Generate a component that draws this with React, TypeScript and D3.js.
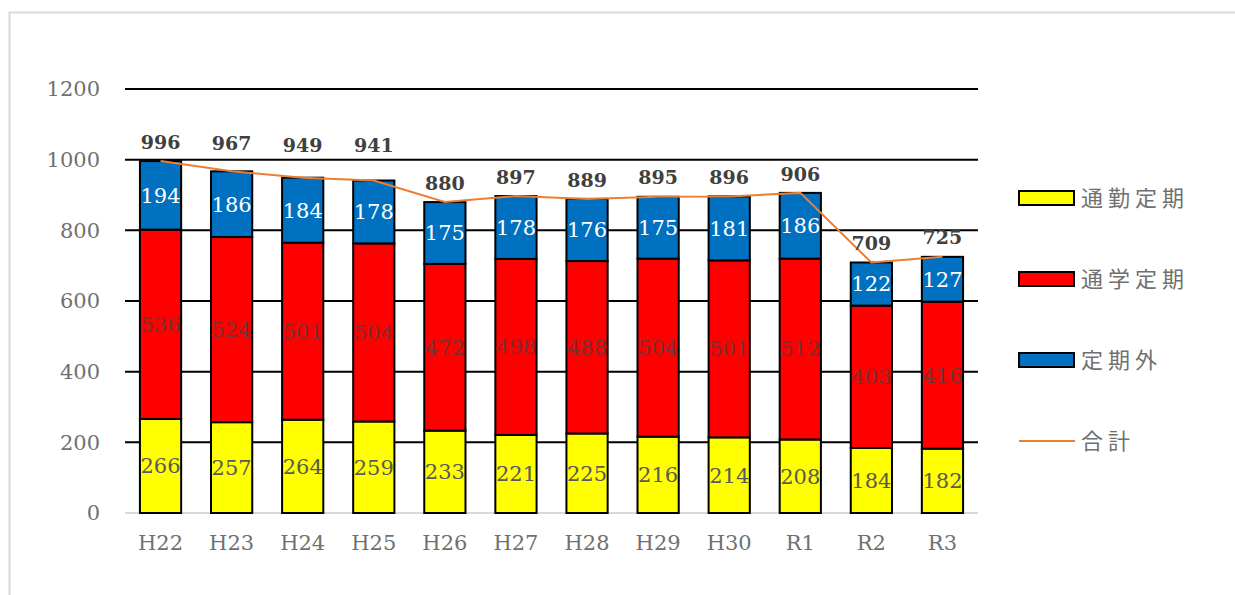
import { useEffect, useRef } from "react";
import * as d3 from "d3";

const years = ["H22", "H23", "H24", "H25", "H26", "H27", "H28", "H29", "H30", "R1", "R2", "R3"];
const commute = [266, 257, 264, 259, 233, 221, 225, 216, 214, 208, 184, 182];
const school = [536, 524, 501, 504, 472, 498, 488, 504, 501, 512, 403, 416];
const other = [194, 186, 184, 178, 175, 178, 176, 175, 181, 186, 122, 127];
const totals = [996, 967, 949, 941, 880, 897, 889, 895, 896, 906, 709, 725];
const yTicks = [0, 200, 400, 600, 800, 1000, 1200];

const seriesNames = ["通勤定期", "通学定期", "定期外"];
const seriesColors = ["#ffff00", "#ff0000", "#0070c0"];
const labelColors = ["#595959", "#7a3030", "#ffffff"];
const lineName = "合計";
const lineColor = "#ed7d31";

const W = 1235;
const H = 595;
const serif = "'DejaVu Serif', 'Liberation Serif', serif";
const sans = "'Noto Sans CJK JP', 'Noto Sans', sans-serif";

const App = () => {
  const ref = useRef<SVGSVGElement>(null);

  useEffect(() => {
    const svg = d3.select(ref.current);
    svg.selectAll("*").remove();

    // frame
    svg
      .append("rect")
      .attr("x", 9.5)
      .attr("y", 12.5)
      .attr("width", 1250)
      .attr("height", 620)
      .attr("fill", "#fff")
      .attr("stroke", "#d9d9d9")
      .attr("stroke-width", 2);

    const x = d3.scaleBand().domain(years).range([125, 978]).paddingInner(0.42).paddingOuter(0.21);
    const y = d3.scaleLinear().domain([0, 1200]).range([513, 89]);

    // grid
    svg
      .selectAll("line.grid")
      .data(yTicks.filter((t) => t > 0))
      .enter()
      .append("line")
      .attr("x1", 125)
      .attr("x2", 978)
      .attr("y1", (d) => y(d))
      .attr("y2", (d) => y(d))
      .attr("stroke", "#000")
      .attr("stroke-width", 2);

    svg
      .append("line")
      .attr("x1", 125)
      .attr("x2", 978)
      .attr("y1", y(0))
      .attr("y2", y(0))
      .attr("stroke", "#d9d9d9")
      .attr("stroke-width", 2);

    svg
      .selectAll("text.ytick")
      .data(yTicks)
      .enter()
      .append("text")
      .attr("x", 100)
      .attr("y", (d) => y(d))
      .attr("dy", "0.35em")
      .attr("text-anchor", "end")
      .attr("font-family", serif)
      .attr("font-size", 21)
      .attr("fill", "#707070")
      .text((d) => d);

    svg
      .selectAll("text.xtick")
      .data(years)
      .enter()
      .append("text")
      .attr("x", (d) => x(d)! + x.bandwidth() / 2)
      .attr("y", 543)
      .attr("dy", "0.35em")
      .attr("text-anchor", "middle")
      .attr("font-family", serif)
      .attr("font-size", 21)
      .attr("fill", "#707070")
      .text((d) => d);

    // stacked bars
    const table = years.map((yr, i) => ({ year: yr, s0: commute[i], s1: school[i], s2: other[i] }));
    const stack = d3.stack<any>().keys(["s0", "s1", "s2"]);
    const layers = stack(table);

    layers.forEach((layer, li) => {
      const g = svg.append("g");
      g.selectAll("rect")
        .data(layer)
        .enter()
        .append("rect")
        .attr("x", (d) => x(d.data.year)!)
        .attr("y", (d) => y(d[1]))
        .attr("width", x.bandwidth())
        .attr("height", (d) => y(d[0]) - y(d[1]))
        .attr("fill", seriesColors[li])
        .attr("stroke", "#000")
        .attr("stroke-width", 2);
    });

    layers.forEach((layer, li) => {
      svg
        .append("g")
        .selectAll("text")
        .data(layer)
        .enter()
        .append("text")
        .attr("x", (d) => x(d.data.year)! + x.bandwidth() / 2)
        .attr("y", (d) => (y(d[0]) + y(d[1])) / 2)
        .attr("dy", "0.35em")
        .attr("text-anchor", "middle")
        .attr("font-family", serif)
        .attr("font-size", 21)
        .attr("fill", labelColors[li])
        .text((d) => d[1] - d[0]);
    });

    // total line
    const line = d3
      .line<number>()
      .x((_, i) => x(years[i])! + x.bandwidth() / 2)
      .y((d) => y(d));
    svg
      .append("path")
      .attr("d", line(totals))
      .attr("fill", "none")
      .attr("stroke", lineColor)
      .attr("stroke-width", 2);

    // labels near the 1000 gridline sit just above it
    svg
      .selectAll("text.total")
      .data(totals)
      .enter()
      .append("text")
      .attr("x", (_, i) => x(years[i])! + x.bandwidth() / 2)
      .attr("y", (d) => (d > 930 ? Math.min(y(d) - 19, y(1000) - 16) + (d < 960 ? 2 : 0) : y(d) - 19))
      .attr("dy", "0.35em")
      .attr("text-anchor", "middle")
      .attr("font-family", serif)
      .attr("font-size", 19)
      .attr("font-weight", "bold")
      .attr("fill", "#404040")
      .text((d) => d);

    // legend
    const legendY = [198, 279, 360, 441];
    seriesNames.forEach((name, i) => {
      svg
        .append("rect")
        .attr("x", 1019)
        .attr("y", legendY[i] - 7)
        .attr("width", 55)
        .attr("height", 14)
        .attr("fill", seriesColors[i])
        .attr("stroke", "#000")
        .attr("stroke-width", 2);
      svg
        .append("text")
        .attr("x", 1081)
        .attr("y", legendY[i])
        .attr("dy", "0.35em")
        .attr("font-family", sans)
        .attr("font-size", 22)
        .attr("letter-spacing", 5)
        .attr("fill", "#707070")
        .text(name);
    });
    svg
      .append("line")
      .attr("x1", 1019)
      .attr("x2", 1075)
      .attr("y1", legendY[3])
      .attr("y2", legendY[3])
      .attr("stroke", lineColor)
      .attr("stroke-width", 2);
    svg
      .append("text")
      .attr("x", 1081)
      .attr("y", legendY[3])
      .attr("dy", "0.35em")
      .attr("font-family", sans)
      .attr("font-size", 22)
      .attr("letter-spacing", 5)
      .attr("fill", "#707070")
      .text(lineName);
  }, []);

  return (
    <svg
      ref={ref}
      width={W}
      height={H}
      style={{ position: "absolute", left: 0, top: 0, background: "#fff" }}
    ></svg>
  );
};

export default App;
